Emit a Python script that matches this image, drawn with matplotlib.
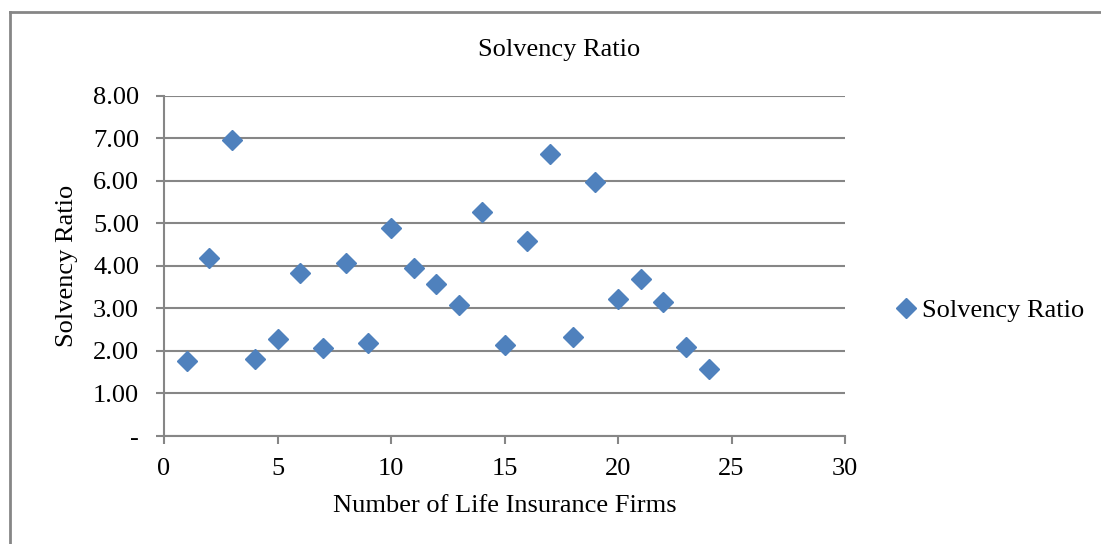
import matplotlib
matplotlib.use("Agg")
import matplotlib.pyplot as plt
from matplotlib.lines import Line2D
from matplotlib.ticker import FuncFormatter

firms = list(range(1, 25))
solvency = [1.76, 4.18, 6.96, 1.82, 2.29, 3.84, 2.08, 4.06, 2.18, 4.88,
            3.96, 3.57, 3.09, 5.26, 2.14, 4.59, 6.64, 2.33, 5.98, 3.23,
            3.68, 3.14, 2.09, 1.57]
series_name = "Solvency Ratio"
title = "Solvency Ratio"
x_label = "Number of Life Insurance Firms"
y_label = "Solvency Ratio"
x_ticks = [0, 5, 10, 15, 20, 25, 30]
y_ticks = [0, 1, 2, 3, 4, 5, 6, 7, 8]

plt.rcParams['font.family'] = ['Liberation Serif', 'DejaVu Serif']
FS = 19
GRAY = '#868686'
BLUE = '#4F81BD'

W, H = 1101, 544
fig = plt.figure(figsize=(W / 100, H / 100), dpi=100)
ax = fig.add_axes([164 / W, 1 - 436 / H, (845 - 164) / W, (436 - 95.7) / H])

ax.plot(firms, solvency, linestyle='none', marker='D', markersize=10.2,
        color=BLUE, markeredgecolor=BLUE, zorder=3)

ax.set_xlim(0, 30)
ax.set_ylim(0, 8)
ax.set_xticks(x_ticks)
ax.set_yticks(y_ticks)
ax.yaxis.set_major_formatter(FuncFormatter(lambda v, p: '-' if v == 0 else f'{v:.2f}'))
ax.grid(axis='y', color=GRAY, linewidth=1.5)
ax.set_axisbelow(True)
for s in ['top', 'right']:
    ax.spines[s].set_visible(False)
for s in ['left', 'bottom']:
    ax.spines[s].set_color(GRAY)
    ax.spines[s].set_linewidth(1.5)
ax.tick_params(axis='both', colors=GRAY, width=1.5, length=6, labelsize=FS,
               labelcolor='black', direction='out')
ax.tick_params(axis='y', pad=12)
ax.tick_params(axis='x', pad=10)

ax.set_xlabel(x_label, fontsize=FS, labelpad=11)
ax.set_ylabel(y_label, fontsize=FS, labelpad=11)
fig.text(559 / W, 1 - 50 / H, title, fontsize=FS, ha='center', va='center')

handle = Line2D([], [], linestyle='none', marker='D', markersize=10.2,
                color=BLUE)
fig.legend([handle], [series_name], loc='center left',
           bbox_to_anchor=(885 / W, 1 - 310 / H), frameon=False,
           fontsize=FS, handlelength=0.6, handletextpad=0.3, borderpad=0)

# chart frame (top and left edges visible)
fig.add_artist(Line2D([9.5 / W, 1.0], [1 - 12 / H, 1 - 12 / H],
                      transform=fig.transFigure, color=GRAY, linewidth=2))
fig.add_artist(Line2D([9.5 / W, 9.5 / W], [0, 1 - 12 / H],
                      transform=fig.transFigure, color=GRAY, linewidth=2))

fig.savefig('out.png', dpi=100)
